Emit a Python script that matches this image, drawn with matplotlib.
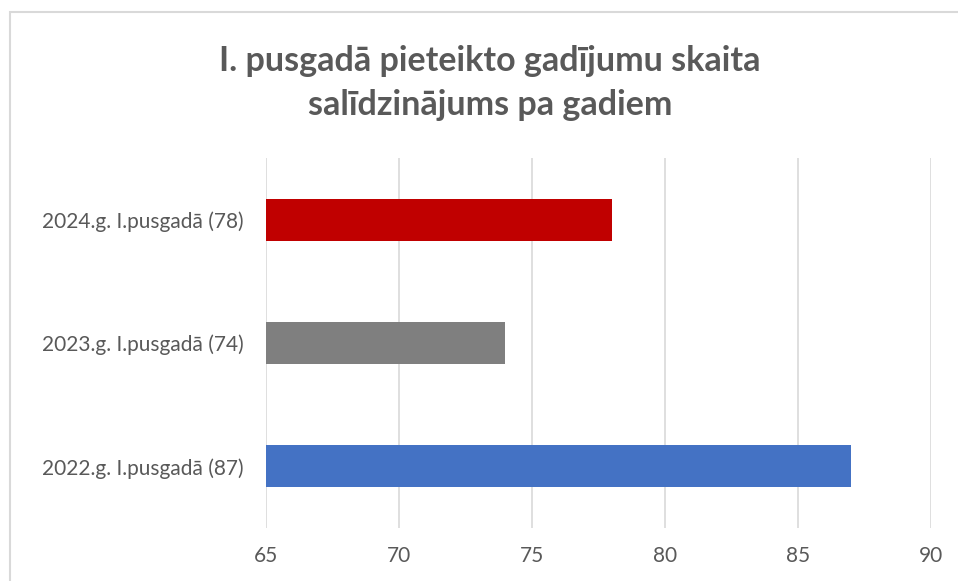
import matplotlib.pyplot as plt
from matplotlib.patches import Rectangle

# data
labels = ["2022.g. I.pusgadā (87)", "2023.g. I.pusgadā (74)", "2024.g. I.pusgadā (78)"]
values = [87, 74, 78]
colors = ["#4472C4", "#7F7F7F", "#C00000"]
x_ticks = [65, 70, 75, 80, 85, 90]

plt.rcParams['font.family'] = ['Lato', 'DejaVu Sans']

fig = plt.figure(figsize=(9.58, 5.81), dpi=100)
ax = fig.add_axes([266 / 958, 1 - 528 / 581, (931 - 266) / 958, (528 - 158) / 581])

# chart border
fig.patches.append(Rectangle((10 / 958, -0.1), 1.2, 1 - 12 / 581 + 0.1,
                             transform=fig.transFigure, fill=False,
                             edgecolor="#D9D9D9", linewidth=1.5))

y = range(len(labels))
ax.barh(y, [v - 65 for v in values], left=65, height=0.34, color=colors, zorder=3)

ax.set_xlim(65, 90)
ax.set_ylim(-0.5, 2.5)
ax.set_xticks(x_ticks)
ax.set_yticks(list(y))
ax.set_yticklabels(labels)
ax.tick_params(axis='both', length=0, colors="#595959", labelsize=15)
ax.tick_params(axis='x', pad=13)
ax.tick_params(axis='y', pad=16)
ax.grid(axis='x', color="#D9D9D9", linewidth=1.2, zorder=0)
for s in ax.spines.values():
    s.set_visible(False)

fig.text(490 / 958, 1 - 83 / 581, "I. pusgadā pieteikto gadījumu skaita\nsalīdzinājums pa gadiem",
         ha='center', va='center', fontsize=24.5, fontweight='bold', color="#595959",
         linespacing=1.45)

fig.savefig("out.png", dpi=100)
